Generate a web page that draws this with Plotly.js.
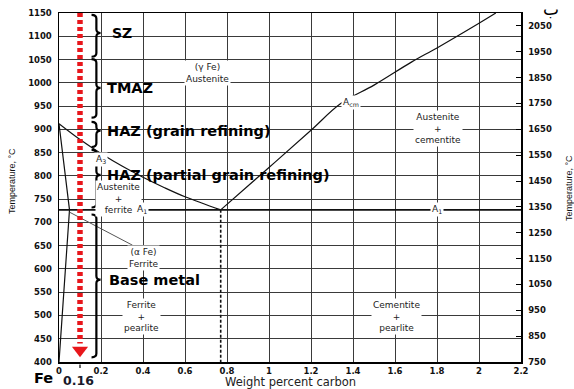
<!DOCTYPE html>
<html>
<head>
<meta charset="utf-8">
<script src="https://cdn.plot.ly/plotly-3.0.1.min.js"></script>
<style>html,body{margin:0;padding:0;background:#fff;}#chart{width:574px;height:389px;}</style>
</head>
<body>
<div id="chart"></div>
<script>
// ---- data ----
const a3C = [0, 0.1, 0.2, 0.3, 0.4, 0.5, 0.6, 0.77];
const a3T = [912, 878, 848, 821, 797, 775, 755, 727];
const acmC = [0.77, 1.0, 1.2, 1.34, 1.5, 1.68, 1.8, 2.0, 2.08];
const acmT = [727, 818, 898, 955, 995, 1045, 1075, 1128, 1150];
const alphaC = [0, 0.05, 0];
const alphaT = [912, 727, 400];
const a1C = [0, 2.2];
const a1T = [727, 727];
const eutC = [0.77, 0.77];
const eutT = [727, 400];
const leaderC = [0.05, 0.35];
const leaderT = [722, 651];
const pathC = [0.1, 0.1];
const pathT = [1150, 440];
const arrowC = [0.1];
const arrowT = [425];
const fTicks = [750, 850, 950, 1050, 1150, 1250, 1350, 1450, 1550, 1650, 1750, 1850, 1950, 2050];

const zoneNames = ['SZ', 'TMAZ', 'HAZ (grain refining)', 'HAZ (partial grain refining)', 'Base metal'];
const zoneTop = [1146, 1051, 916, 856, 717];
const zoneBot = [1056, 925, 862, 732, 410];
const zoneMid = [1107, 989, 897, 802, 577];
const zoneTextC = [0.243, 0.219, 0.219, 0.219, 0.229];

const phaseText = ['(γ Fe)<br>Austenite', 'Austenite<br>+<br>cementite', 'Austenite<br>+<br>ferrite',
  'A<sub>1</sub>', 'A<sub>1</sub>', 'A<sub>3</sub>', 'A<sub>cm</sub>', '(α Fe)<br>Ferrite',
  'Ferrite<br>+<br>pearlite', 'Cementite<br>+<br>pearlite'];
const phaseC = [0.705, 1.805, 0.283, 0.395, 1.8, 0.2, 1.39, 0.40, 0.395, 1.605];
const phaseT = [1022, 901, 752, 727, 727, 835, 957, 624, 498, 498];

// ---- traces ----
const blk = '#111';
const traces = [
  {x: a3C, y: a3T, mode: 'lines', line: {color: blk, width: 1.2, shape: 'spline', smoothing: 1}, hoverinfo: 'skip'},
  {x: acmC, y: acmT, mode: 'lines', line: {color: blk, width: 1.2, shape: 'spline', smoothing: 1}, hoverinfo: 'skip'},
  {x: alphaC, y: alphaT, mode: 'lines', line: {color: blk, width: 1.2}, hoverinfo: 'skip'},
  {x: a1C, y: a1T, mode: 'lines', line: {color: blk, width: 1.6}, hoverinfo: 'skip'},
  {x: eutC, y: eutT, mode: 'lines', line: {color: blk, width: 1.6, dash: '3px,2px'}, hoverinfo: 'skip'},
  {x: leaderC, y: leaderT, mode: 'lines', line: {color: '#555', width: 1}, hoverinfo: 'skip'},
  {x: pathC, y: pathT, mode: 'lines', line: {color: '#e8161b', width: 5.5, dash: '4px,3px'}, hoverinfo: 'skip'},
  {x: arrowC, y: arrowT, mode: 'markers', marker: {symbol: 'triangle-down', size: 14, color: '#e8161b'}, hoverinfo: 'skip'},
  {x: [1], y: [1000], yaxis: 'y2', mode: 'markers', marker: {opacity: 0}, hoverinfo: 'skip'}
];

// ---- braces ----
function bracePath(top, bot, mid) {
  const x0 = 0.155, x1 = 0.178, x2 = 0.198, r = 8;
  return `M ${x0},${top} Q ${x1},${top} ${x1},${top - r} L ${x1},${mid + r} Q ${x1},${mid} ${x2},${mid} ` +
         `Q ${x1},${mid} ${x1},${mid - r} L ${x1},${bot + r} Q ${x1},${bot} ${x0},${bot}`;
}
const shapes = zoneNames.map((n, i) => ({
  type: 'path', xref: 'x', yref: 'y', path: bracePath(zoneTop[i], zoneBot[i], zoneMid[i]),
  line: {color: '#000', width: 2.2}, layer: 'above'
}));
shapes.push({type: 'line', xref: 'x', yref: 'paper', x0: 0.1, x1: 0.1, y0: -0.007, y1: -0.017, line: {color: '#000', width: 1.2}});

// ---- annotations ----
const annotations = [];
zoneNames.forEach((n, i) => {
  annotations.push({x: zoneTextC[i], y: zoneMid[i], xref: 'x', yref: 'y', text: n, showarrow: false,
    xanchor: 'left', yanchor: 'middle',
    font: {family: 'DejaVu Sans', size: i === 0 ? 14 : 14.5, weight: 'bold', color: '#000'}});
});
phaseText.forEach((t, i) => {
  annotations.push({x: phaseC[i], y: phaseT[i], xref: 'x', yref: 'y', text: t, showarrow: false,
    xanchor: 'center', yanchor: 'middle', bgcolor: '#fff', borderpad: 1,
    font: {family: 'DejaVu Sans', size: 9, color: '#222'}});
});
annotations.push(
  {x: -0.1017, y: 0.5186, xref: 'paper', yref: 'paper', text: 'Temperature, °C', textangle: -90, showarrow: false,
   xanchor: 'center', yanchor: 'middle', font: {family: 'Liberation Sans', size: 9, color: '#111'}},
  {x: 1.104, y: 0.4986, xref: 'paper', yref: 'paper', text: 'Temperature, °C', textangle: -90, showarrow: false,
   xanchor: 'center', yanchor: 'middle', font: {family: 'Liberation Sans', size: 9, color: '#111'}},
  {x: 0.5, y: -0.0573, xref: 'paper', yref: 'paper', text: 'Weight percent carbon', showarrow: false,
   xanchor: 'center', yanchor: 'middle', font: {family: 'DejaVu Sans', size: 11.5, color: '#222'}},
  {x: -0.0346, y: -0.0458, xref: 'paper', yref: 'paper', text: 'Fe', showarrow: false,
   xanchor: 'center', yanchor: 'middle', font: {family: 'DejaVu Sans', size: 14.5, weight: 'bold', color: '#000'}},
  {x: 0.0422, y: -0.0544, xref: 'paper', yref: 'paper', text: '0.16', showarrow: false,
   xanchor: 'center', yanchor: 'middle', font: {family: 'DejaVu Sans', size: 12.5, weight: 'bold', color: '#1a1a2a'}},
  {x: 1.065, y: 1.012, xref: 'paper', yref: 'paper', text: 'ب', showarrow: false,
   xanchor: 'center', yanchor: 'middle', font: {family: 'DejaVu Sans', size: 17, color: '#000'}}
);

const tickFont = {family: 'DejaVu Sans', size: 8.5, weight: 'bold', color: '#111'};
const layout = {
  width: 574, height: 389,
  margin: {l: 59, r: 53, t: 13, b: 27, pad: 0},
  paper_bgcolor: '#fff', plot_bgcolor: '#fff',
  showlegend: false,
  xaxis: {range: [0, 2.2], tick0: 0, dtick: 0.2, showgrid: true, gridcolor: '#3a3a3a', gridwidth: 1,
    zeroline: false, showline: true, linecolor: '#000', linewidth: 1.5, mirror: true, ticks: '',
    tickfont: tickFont, fixedrange: true},
  yaxis: {range: [400, 1150], tick0: 400, dtick: 50, showgrid: true, gridcolor: '#3a3a3a', gridwidth: 1,
    zeroline: false, showline: true, linecolor: '#000', linewidth: 1.5, mirror: true, ticks: '',
    ticklabelstandoff: 4, tickfont: tickFont, fixedrange: true},
  yaxis2: {range: [750, 2100], overlaying: 'y', side: 'right', tickvals: fTicks, showgrid: false,
    zeroline: false, showline: true, linecolor: '#000', linewidth: 1.5, ticks: 'inside', ticklen: 5,
    tickcolor: '#000', tickwidth: 1, ticklabelstandoff: 4, tickfont: tickFont, fixedrange: true},
  shapes: shapes,
  annotations: annotations
};

Plotly.newPlot('chart', traces, layout, {displayModeBar: false, staticPlot: true});
</script>
</body>
</html>
